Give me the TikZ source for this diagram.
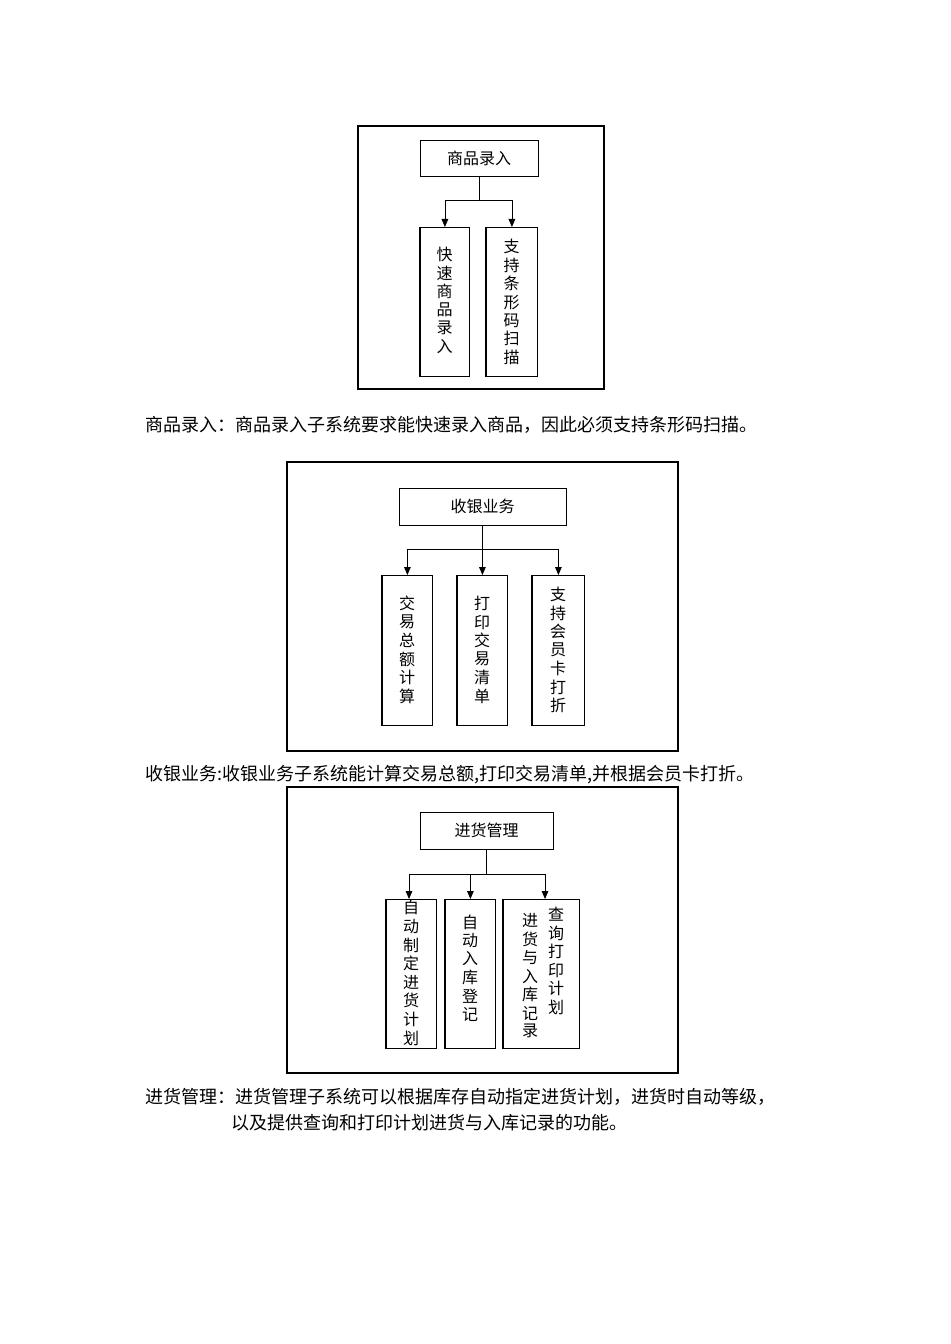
\documentclass[tikz,border=0pt]{standalone}
\usepackage{fontspec}
\setmainfont{Liberation Serif}
\newfontfamily\cjk{Noto Sans CJK SC}
\usetikzlibrary{arrows.meta}
\begin{document}
\begin{tikzpicture}[x=0.75pt,y=-0.75pt,
  frame/.style={draw,line width=0.9pt},
  topbox/.style={draw,line width=0.6pt,font=\cjk\fontsize{12pt}{14pt}\selectfont,inner sep=0pt},
  child/.style={draw,line width=0.6pt,inner sep=0pt,anchor=north west},
  link/.style={line width=0.6pt},
  arr/.style={line width=0.6pt,-{Triangle[length=6pt,width=5pt]}},
  captext/.style={font=\cjk\fontsize{13.5pt}{19.5pt}\selectfont,anchor=west,inner sep=0pt}]
\useasboundingbox (0,0) rectangle (950,1344);
% ---------- diagram 1
\draw[frame] (358,126) rectangle (604,389);
\node[topbox,minimum width=118*0.75pt,minimum height=36*0.75pt] (a0) at (479,158) {商品录入};
\node[child,minimum width=49*0.75pt,minimum height=149*0.75pt] (a1) at (420,227) {};
\node at (444.5,300) (a1t) {\cjk\fontsize{12pt}{14.2pt}\selectfont\shortstack{快\\速\\商\\品\\录\\入}};
\node[child,minimum width=51*0.75pt,minimum height=149*0.75pt] (a2) at (486,227) {};
\node at (511.5,302) (a2t) {\cjk\fontsize{12pt}{14.2pt}\selectfont\shortstack{支\\持\\条\\形\\码\\扫\\描}};
\coordinate (aj) at (479,200);
\draw[link] (a0.south) -- (aj);
\draw[link] (a1.north |- aj) -- (a2.north |- aj);
\draw[arr] (a1.north |- aj) -- (a1.north);
\draw[arr] (a2.north |- aj) -- (a2.north);
\node[captext] (c1) at (145,425) {商品录入：商品录入子系统要求能快速录入商品，因此必须支持条形码扫描。};
% ---------- diagram 2
\draw[frame] (287,462) rectangle (678,751);
\node[topbox,minimum width=167*0.75pt,minimum height=37*0.75pt] (b0) at (482.5,506.5) {收银业务};
\node[child,minimum width=50*0.75pt,minimum height=150*0.75pt] (b1) at (382,575) {};
\node at (407,650) (b1t) {\cjk\fontsize{12pt}{14.2pt}\selectfont\shortstack{交\\易\\总\\额\\计\\算}};
\node[child,minimum width=50*0.75pt,minimum height=150*0.75pt] (b2) at (457,575) {};
\node at (482,650) (b2t) {\cjk\fontsize{12pt}{14.2pt}\selectfont\shortstack{打\\印\\交\\易\\清\\单}};
\node[child,minimum width=52*0.75pt,minimum height=150*0.75pt] (b3) at (532,575) {};
\node at (558,650) (b3t) {\cjk\fontsize{12pt}{14.2pt}\selectfont\shortstack{支\\持\\会\\员\\卡\\打\\折}};
\coordinate (bj) at (482.5,549);
\draw[link] (b0.south) -- (bj);
\draw[link] (b1.north |- bj) -- (b3.north |- bj);
\draw[arr] (b1.north |- bj) -- (b1.north);
\draw[arr] (b2.north |- bj) -- (b2.north);
\draw[arr] (b3.north |- bj) -- (b3.north);
\node[captext] (c2) at (145,775) {收银业务:收银业务子系统能计算交易总额,打印交易清单,并根据会员卡打折。};
% ---------- diagram 3
\draw[frame] (287,787) rectangle (678,1073);
\node[topbox,minimum width=133*0.75pt,minimum height=37*0.75pt] (d0) at (486.5,830.5) {进货管理};
\node[child,minimum width=50*0.75pt,minimum height=149*0.75pt] (d1) at (386,899) {};
\node at (411,973) (d1t) {\cjk\fontsize{12pt}{14.2pt}\selectfont\shortstack{自\\动\\制\\定\\进\\货\\计\\划}};
\node[child,minimum width=50*0.75pt,minimum height=149*0.75pt] (d2) at (445,899) {};
\node at (470,968) (d2t) {\cjk\fontsize{12pt}{14.2pt}\selectfont\shortstack{自\\动\\入\\库\\登\\记}};
\node[child,minimum width=76*0.75pt,minimum height=149*0.75pt] (d3) at (503,899) {};
\node at (530,976) (d3a) {\cjk\fontsize{12pt}{14.2pt}\selectfont\shortstack{进\\货\\与\\入\\库\\记\\录}};
\node at (556,961) (d3b) {\cjk\fontsize{12pt}{14.2pt}\selectfont\shortstack{查\\询\\打\\印\\计\\划}};
\coordinate (dj) at (486.5,874);
\coordinate (dl) at (409,874);
\coordinate (dr) at (545,874);
\coordinate (dlb) at (409,899);
\coordinate (drb) at (545,899);
\draw[link] (d0.south) -- (dj);
\draw[link] (dl) -- (dr);
\draw[arr] (dl) -- (dlb);
\draw[arr] (d2.north |- dj) -- (d2.north);
\draw[arr] (dr) -- (drb);
\node[captext] (c3) at (145,1097) {进货管理：进货管理子系统可以根据库存自动指定进货计划，进货时自动等级，};
\node[captext] (c4) at (231,1123) {以及提供查询和打印计划进货与入库记录的功能。};
% thick left edges
\foreach \n in {a1,a2,b1,b2,b3,d1,d2,d3}
  \draw[line width=1.6pt] (\n.north west) -- (\n.south west);
\end{tikzpicture}
\end{document}
